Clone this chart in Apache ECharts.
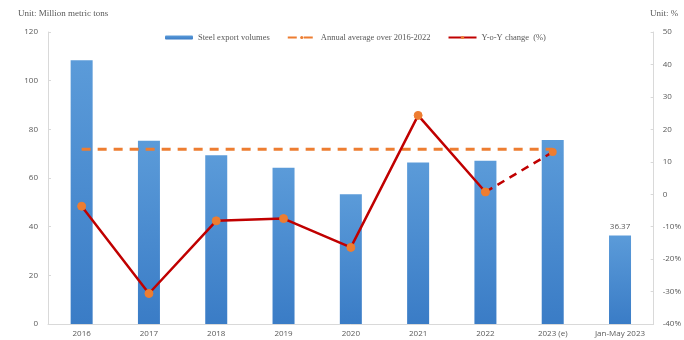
<!DOCTYPE html>
<html><head><meta charset="utf-8">
<script src="https://cdn.jsdelivr.net/npm/echarts@6/dist/echarts.min.js"></script>
<style>html,body{margin:0;padding:0;background:#fff}#c{width:684px;height:340px}</style>
</head><body><div id="c"></div>
<script>
var categories = ['2016','2017','2018','2019','2020','2021','2022','2023 (e)','Jan-May 2023'];
var exportVolumes = [108.4, 75.3, 69.4, 64.2, 53.3, 66.4, 67.1, 75.6, 36.37];
var annualAverage = [71.8, 71.8, 71.8, 71.8, 71.8, 71.8, 71.8, 71.8, null];
var yoyActual = [-3.7, -30.6, -8.2, -7.5, -16.4, 24.3, 0.7, null, null];
var yoyForecast = [null, null, null, null, null, null, 0.7, 13.0, null];
var leftTicks = [0, 20, 40, 60, 80, 100, 120];
var rightTicks = [-40, -30, -20, -10, 0, 10, 20, 30, 40, 50];

var chart = echarts.init(document.getElementById('c'));
var gray = '#595959';
var serif = '"Liberation Serif", "DejaVu Serif", serif';
var sans = '"Open Sans", "Liberation Sans", sans-serif';
chart.setOption({
  animation: false,
  grid: {left: 48, right: 23, top: 32, bottom: 16, containLabel: false},
  graphic: [
    {type: 'text', left: 18, top: 9, style: {text: 'Unit: Million metric tons', fill: gray, font: '9px ' + serif}},
    {type: 'text', left: 650, top: 9, style: {text: 'Unit: %', fill: gray, font: '9px ' + serif}}
  ],
  legend: {
    data: ['Steel export volumes', 'Annual average over 2016-2022', 'Y-o-Y change  (%)'],
    top: 28, left: 160, itemGap: 17, itemWidth: 28, itemHeight: 4,
    textStyle: {color: gray, fontSize: 8.5, fontFamily: serif}
  },
  xAxis: {
    type: 'category', data: categories,
    axisLine: {lineStyle: {color: '#d9d9d9'}},
    axisTick: {show: false},
    axisLabel: {color: gray, fontSize: 8, fontFamily: sans, margin: 6}
  },
  yAxis: [
    {type: 'value', min: leftTicks[0], max: leftTicks[leftTicks.length-1], interval: 20,
     splitLine: {show: false},
     axisLine: {show: true, lineStyle: {color: '#d9d9d9'}},
     axisTick: {show: true, length: 3, inside: true, lineStyle: {color: '#d9d9d9'}},
     axisLabel: {color: gray, fontSize: 8, fontFamily: sans, margin: 10}},
    {type: 'value', min: rightTicks[0], max: rightTicks[rightTicks.length-1], interval: 10,
     splitLine: {show: false},
     axisLine: {show: true, lineStyle: {color: '#d9d9d9'}},
     axisTick: {show: true, length: 3, inside: true, lineStyle: {color: '#d9d9d9'}},
     axisLabel: {color: gray, fontSize: 8, fontFamily: sans, margin: 9,
       formatter: function(v){ return v < 0 ? v + '%' : String(v); }}}
  ],
  series: [
    {name: 'Steel export volumes', type: 'bar', data: exportVolumes, barWidth: 22,
     itemStyle: {color: new echarts.graphic.LinearGradient(0,0,0,1,[{offset:0,color:'#5b9bd9'},{offset:1,color:'#3a7cc6'}])},
     label: {show: true, position: 'top', fontSize: 8, color: gray, fontFamily: sans,
       formatter: function(p){ return p.dataIndex === 8 ? p.value.toFixed(2) : ''; }}},
    {name: 'Annual average over 2016-2022', type: 'line', data: annualAverage, symbol: 'none',
     lineStyle: {color: '#ed7d31', width: 3, type: [9, 7]}, itemStyle: {color: '#ed7d31'}, z: 3},
    {name: 'Y-o-Y change  (%)', type: 'line', yAxisIndex: 1, data: yoyActual,
     symbol: 'circle', symbolSize: 8,
     lineStyle: {color: '#c00000', width: 2.5}, itemStyle: {color: '#ed7d31', borderColor: '#ed7d31'}, z: 4},
    {name: 'forecast', type: 'line', yAxisIndex: 1, data: yoyForecast,
     symbol: 'circle', symbolSize: 8, connectNulls: false,
     lineStyle: {color: '#c00000', width: 2.5, type: [8, 6]}, itemStyle: {color: '#ed7d31'}, z: 4}
  ]
});
</script></body></html>
